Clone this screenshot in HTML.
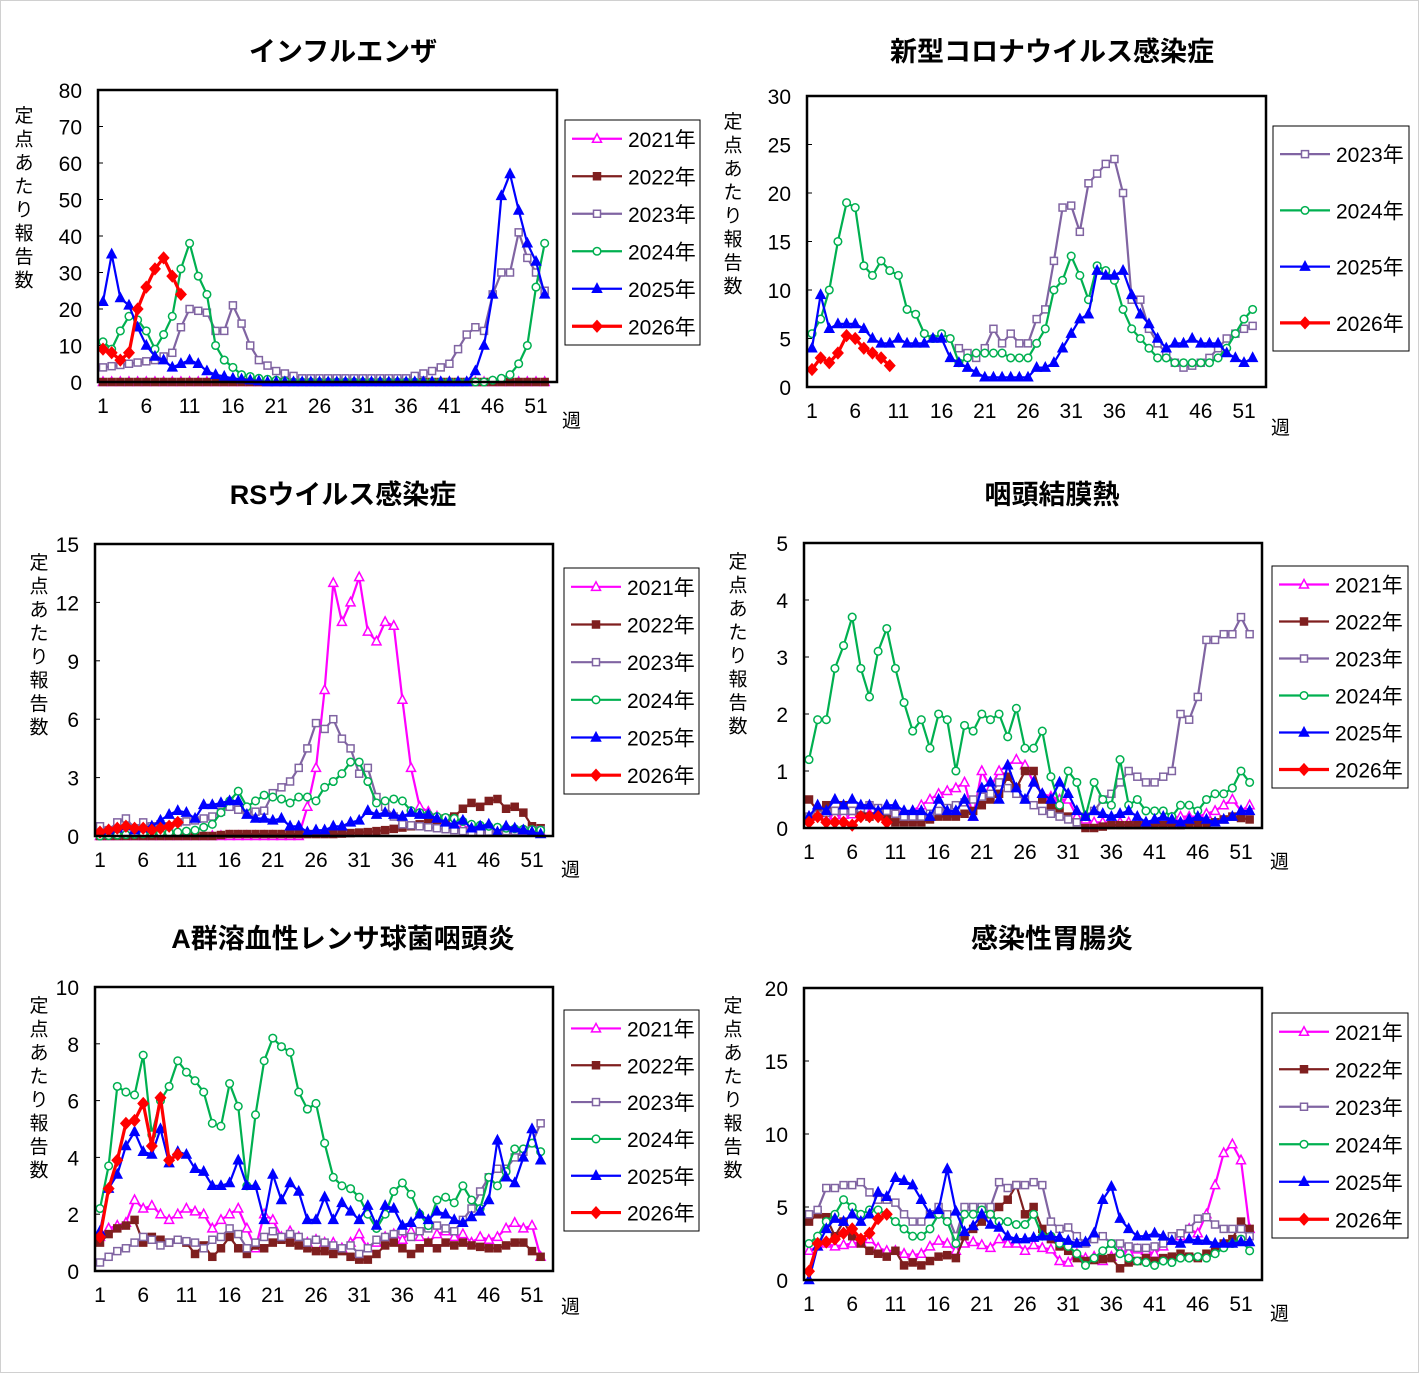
<!DOCTYPE html>
<html><head><meta charset="utf-8">
<style>
html,body{margin:0;padding:0;background:#fff;}
svg text{font-family:"Liberation Sans","Noto Sans CJK JP",sans-serif;}
</style></head>
<body>
<svg id="s" width="1419" height="1373" xmlns="http://www.w3.org/2000/svg">
<rect x="0.5" y="0.5" width="1418" height="1372" fill="#fff" stroke="#d0d0d0"/>
</svg>
<script>
const NS="http://www.w3.org/2000/svg";
const S=document.getElementById('s');
function el(t,a,txt){const e=document.createElementNS(NS,t);for(const k in a)e.setAttribute(k,a[k]);if(txt!=null)e.textContent=txt;S.appendChild(e);return e;}
const ST={
'2021':{c:'#ff00ff',m:'tri',f:false},
'2022':{c:'#7f1f1f',m:'sq',f:true},
'2023':{c:'#8064a2',m:'sq',f:false},
'2024':{c:'#00b050',m:'circ',f:false},
'2025':{c:'#0000ff',m:'tri',f:true},
'2026':{c:'#ff0000',m:'dia',f:true}
};
function marker(x,y,st){
 const fill=st.f?st.c:'#fff';const a={fill:fill,stroke:st.c,'stroke-width':1.5};
 if(st.m=='tri'){a.points=`${x},${y-5} ${x-4.5},${y+3.5} ${x+4.5},${y+3.5}`;el('polygon',a);}
 else if(st.m=='sq'){a.x=x-3.5;a.y=y-3.5;a.width=7;a.height=7;el('rect',a);}
 else if(st.m=='circ'){a.cx=x;a.cy=y;a.r=3.8;el('circle',a);}
 else {a.points=`${x},${y-5.5} ${x+5},${y} ${x},${y+5.5} ${x-5},${y}`;el('polygon',a);}
}
function interp(k){const out=[];for(let i=0;i<k.length-1;i++){const [w0,v0]=k[i],[w1,v1]=k[i+1];for(let w=w0;w<w1;w++)out.push([w,v0+(v1-v0)*(w-w0)/(w1-w0)]);}out.push(k[k.length-1]);return out;}
function panel(p){
 const [x1,y1,x2,y2]=p.box;
 el('text',{x:p.tx,y:p.ty,'font-size':27,'font-weight':'bold','text-anchor':'middle'},p.title);
 for(let v=0;v<=p.ymax+1e-9;v+=p.step){const y=y2-(y2-y1)*v/p.ymax;
  el('text',{x:x1-16,y:y+8,'font-size':21,'text-anchor':'end'},String(v));
  el('line',{x1:x1,x2:x1+5,y1:y,y2:y,stroke:'#000'});}
 const X=w=>p.w1+(w-1)*(p.w51-p.w1)/50;
 for(let w=1;w<=51;w+=5){el('text',{x:X(w),y:y2+31,'font-size':21,'text-anchor':'middle'},String(w));}
 el('text',{x:p.wk[0],y:p.wk[1],'font-size':19},'週');
 const lab='定点あたり報告数';for(let i=0;i<lab.length;i++)el('text',{x:p.yl[0],y:p.yl[1]+i*23.5,'font-size':19,'text-anchor':'middle'},lab[i]);
 const Y=v=>y2-(y2-y1)*v/p.ymax;
 for(const yr in p.d){const st=ST[yr];const pts=interp(p.d[yr]);
  el('polyline',{points:pts.map(q=>X(q[0]).toFixed(1)+','+Y(q[1]).toFixed(1)).join(' '),fill:'none',stroke:st.c,'stroke-width':yr=='2026'?3.2:2.2});
  pts.forEach(q=>marker(X(q[0]),Y(q[1]),st));}
 el('rect',{x:x1,y:y1,width:x2-x1,height:y2-y1,fill:'none',stroke:'#000','stroke-width':2.5});
 const [lx1,ly1,lx2,ly2]=p.lg;el('rect',{x:lx1,y:ly1,width:lx2-lx1,height:ly2-ly1,fill:'#fff',stroke:'#000','stroke-width':1});
 const yrs=Object.keys(p.d);const n=yrs.length;const sp=(ly2-ly1)/n;
 yrs.forEach((yr,i)=>{const y=ly1+sp*(i+0.5);const st=ST[yr];
  el('line',{x1:lx1+7,x2:lx1+57,y1:y,y2:y,stroke:st.c,'stroke-width':yr=='2026'?3.2:2.2});
  marker(lx1+32,y,st);
  el('text',{x:lx1+63,y:y+8,'font-size':21},yr+'年');});
}
panel({title:'インフルエンザ',tx:343,ty:61,box:[98,90,557,382],ymax:80,step:10,w1:103,w51:536,wk:[562,427],yl:[24,122],lg:[565,120,700,345],d:{
'2021':[[1,0],[52,0]],
'2022':[[1,0],[52,0]],
'2023':[[1,4],[4,5],[7,6],[9,8],[10,15],[11,20],[13,19],[14,14],[15,14],[16,21],[17,16],[18,10],[19,6],[21,3],[24,1],[30,1],[36,1],[39,3],[41,5],[42,9],[43,13],[44,15],[45,14],[46,24],[47,30],[48,30],[49,41],[50,34],[51,30],[52,25]],
'2024':[[1,11],[2,9],[3,14],[4,18],[5,17],[6,14],[7,9],[8,13],[9,18],[10,31],[11,38],[12,29],[13,24],[14,10],[15,6],[16,4],[17,2],[19,1],[23,0],[45,0],[47,1],[48,2],[49,5],[50,10],[51,26],[52,38]],
'2025':[[1,22],[2,35],[3,23],[4,21],[5,15],[6,10],[7,7],[8,6],[9,4],[10,5],[11,6],[12,5],[13,3],[14,2],[16,1],[20,0],[43,0],[44,3],[45,10],[46,24],[47,51],[48,57],[49,47],[50,38],[51,33],[52,24]],
'2026':[[1,9],[2,8],[3,6],[4,8],[5,20],[6,26],[7,31],[8,34],[9,29],[10,24]]}});
panel({title:'新型コロナウイルス感染症',tx:1052,ty:61,box:[807,96,1266,387],ymax:30,step:5,w1:812,w51:1244,wk:[1271,434],yl:[733,128],lg:[1273,126,1409,351],d:{
'2023':[[18,4],[20,3],[21,4],[22,6],[23,4.5],[24,5.5],[25,4.5],[26,4.5],[27,7],[28,8],[29,13],[30,18.5],[31,18.7],[32,16],[33,21],[34,22],[35,23],[36,23.5],[37,20],[38,9],[39,9],[40,6],[41,4.5],[42,3.5],[43,2.5],[44,2],[45,2.2],[46,2.5],[47,3],[48,4],[49,5],[50,5.5],[51,6],[52,6.3]],
'2024':[[1,5.5],[2,7],[3,10],[4,15],[5,19],[6,18.5],[7,12.5],[8,11.5],[9,13],[10,12],[11,11.5],[12,8],[13,7.5],[14,5.5],[15,5],[16,5.5],[17,5],[18,2.5],[19,3],[20,3.5],[21,3.5],[22,3.5],[23,3.5],[24,3],[25,3],[26,3],[27,4.5],[28,6],[29,10],[30,11],[31,13.5],[32,11.5],[33,9],[34,12.5],[35,12],[36,11],[37,8],[38,6],[39,5],[40,4],[41,3],[42,3],[43,2.5],[47,2.5],[48,3],[49,4],[50,5.5],[51,7],[52,8]],
'2025':[[1,4],[2,9.5],[3,6],[4,6.5],[5,6.5],[6,6.5],[7,6],[8,5],[9,4.5],[10,4.5],[11,5],[12,4.5],[13,4.5],[14,4.5],[15,5],[16,5],[17,3],[18,2.5],[19,2],[20,1.5],[21,1],[26,1],[27,2],[28,2],[29,2.5],[30,4],[31,5.5],[32,7],[33,7.5],[34,12],[35,11.5],[36,11.5],[37,12],[38,9.5],[39,7.5],[40,6.5],[41,5],[42,4],[43,4.5],[44,4.5],[45,5],[46,4.5],[47,4.5],[48,4.5],[49,3.5],[50,3],[51,2.5],[52,3]],
'2026':[[1,1.8],[2,3],[3,2.5],[4,3.5],[5,5.3],[6,5],[7,4],[8,3.5],[9,3],[10,2.2]]}});
panel({title:'RSウイルス感染症',tx:343,ty:504,box:[95,544,553,836],ymax:15,step:3,w1:100,w51:532,wk:[561,876],yl:[39,569],lg:[564,568,699,794],d:{
'2021':[[1,0],[24,0],[25,1.5],[26,3.5],[27,7.5],[28,13],[29,11],[30,12],[31,13.3],[32,10.5],[33,10],[34,11],[35,10.8],[36,7],[37,3.5],[38,1.5],[40,1],[42,0.5],[52,0.2]],
'2022':[[1,0],[14,0],[16,0.1],[28,0.1],[32,0.2],[34,0.3],[37,0.5],[40,0.8],[42,1],[43,1.4],[44,1.7],[45,1.5],[46,1.8],[47,1.9],[48,1.4],[49,1.5],[50,1.2],[51,0.5],[52,0.4]],
'2023':[[1,0.5],[2,0.3],[3,0.7],[4,0.9],[5,0.4],[6,0.7],[7,0.5],[8,0.6],[9,0.5],[10,0.7],[12,0.8],[14,1],[16,1.5],[18,1.2],[20,1.3],[21,2.2],[22,2.5],[23,2.8],[24,3.5],[25,4.5],[26,5.8],[27,5.5],[28,6],[29,5],[30,4.5],[31,3.2],[32,3.5],[33,2],[34,1.5],[35,1],[36,0.6],[40,0.4],[44,0.2],[52,0.3]],
'2024':[[1,0],[10,0.2],[12,0.3],[14,0.6],[15,1.2],[16,1.8],[17,2.3],[18,1.5],[19,1.8],[20,2.1],[21,2],[22,1.9],[23,1.7],[24,2],[25,2],[26,1.8],[27,2.5],[28,2.8],[29,3.2],[30,3.8],[31,3.8],[32,2.8],[33,1.7],[34,1.8],[35,1.9],[36,1.8],[37,1.3],[38,1.2],[40,1],[42,0.9],[44,0.6],[46,0.5],[48,0.4],[52,0.3]],
'2025':[[1,0.2],[2,0.3],[3,0.4],[4,0.5],[5,0.3],[6,0.4],[7,0.5],[8,0.8],[9,1.1],[10,1.3],[11,1.2],[12,0.9],[13,1.6],[14,1.6],[15,1.7],[16,1.8],[17,1.8],[18,1.1],[19,0.9],[20,0.9],[21,0.8],[22,0.9],[23,0.5],[24,0.5],[25,0.2],[26,0.3],[27,0.3],[28,0.5],[29,0.5],[30,0.7],[31,0.8],[32,1.3],[33,1.1],[34,1.2],[35,1.1],[36,1],[37,1.2],[38,1.1],[39,1.1],[40,0.9],[41,0.7],[42,0.6],[43,0.8],[44,0.4],[45,0.5],[46,0.6],[47,0.2],[48,0.5],[49,0.4],[50,0.3],[51,0.2],[52,0.1]],
'2026':[[1,0.2],[2,0.3],[3,0.4],[4,0.5],[5,0.4],[6,0.4],[7,0.3],[8,0.4],[9,0.5],[10,0.7]]}});
panel({title:'咽頭結膜熱',tx:1052,ty:504,box:[804,543,1262,828],ymax:5,step:1,w1:809,w51:1241,wk:[1270,868],yl:[738,568],lg:[1272,566,1408,788],d:{
'2021':[[1,0.2],[13,0.3],[14,0.4],[15,0.5],[16,0.6],[18,0.7],[19,0.8],[20,0.2],[21,1],[22,0.7],[23,1],[24,1.1],[25,1.2],[26,1.1],[27,0.8],[28,0.6],[30,0.5],[31,0.5],[32,0.2],[34,0.1],[40,0.1],[44,0.2],[46,0.2],[48,0.3],[49,0.4],[50,0.5],[51,0.3],[52,0.4]],
'2022':[[1,0.5],[2,0.3],[3,0.4],[4,0.3],[5,0.4],[6,0.3],[7,0.3],[8,0.2],[9,0.3],[10,0.2],[11,0.1],[14,0.1],[16,0.2],[18,0.2],[20,0.3],[21,0.4],[22,0.5],[23,0.6],[24,0.9],[25,0.7],[26,1],[27,1],[28,0.5],[29,0.4],[30,0.3],[31,0.2],[32,0.1],[33,0],[34,0],[36,0.05],[44,0.05],[48,0.1],[50,0.2],[52,0.15]],
'2023':[[1,0.2],[4,0.3],[6,0.3],[8,0.4],[10,0.3],[12,0.2],[14,0.2],[16,0.3],[18,0.4],[20,0.5],[22,0.6],[23,0.8],[24,0.7],[26,0.5],[28,0.3],[30,0.2],[32,0.1],[34,0.3],[35,0.5],[36,0.6],[37,0.8],[38,1],[39,0.9],[40,0.8],[41,0.8],[42,0.9],[43,1],[44,2],[45,1.9],[46,2.3],[47,3.3],[48,3.3],[49,3.4],[50,3.4],[51,3.7],[52,3.4]],
'2024':[[1,1.2],[2,1.9],[3,1.9],[4,2.8],[5,3.2],[6,3.7],[7,2.8],[8,2.3],[9,3.1],[10,3.5],[11,2.8],[12,2.2],[13,1.7],[14,1.9],[15,1.4],[16,2],[17,1.9],[18,1],[19,1.8],[20,1.7],[21,2],[22,1.9],[23,2],[24,1.6],[25,2.1],[26,1.4],[27,1.4],[28,1.7],[29,0.9],[30,0.4],[31,1],[32,0.8],[33,0.2],[34,0.8],[35,0.5],[36,0.4],[37,1.2],[38,0.4],[39,0.5],[40,0.3],[42,0.3],[43,0.2],[44,0.4],[45,0.4],[46,0.3],[47,0.5],[48,0.6],[49,0.6],[50,0.7],[51,1],[52,0.8]],
'2025':[[1,0.2],[2,0.4],[3,0.3],[4,0.5],[5,0.4],[6,0.5],[7,0.4],[8,0.4],[9,0.3],[10,0.4],[11,0.4],[12,0.3],[14,0.3],[15,0.2],[16,0.5],[17,0.3],[18,0.3],[19,0.5],[20,0.2],[21,0.7],[22,0.8],[23,0.5],[24,1.1],[25,0.7],[26,0.5],[27,0.8],[28,0.6],[29,0.5],[30,0.8],[31,0.6],[32,0.3],[33,0.2],[34,0.3],[36,0.2],[38,0.3],[40,0.1],[42,0.2],[44,0.1],[46,0.2],[48,0.1],[50,0.2],[51,0.3],[52,0.3]],
'2026':[[1,0.1],[2,0.2],[3,0.1],[4,0.1],[5,0.1],[6,0.05],[7,0.2],[8,0.2],[9,0.2],[10,0.1]]}});
panel({title:'A群溶血性レンサ球菌咽頭炎',tx:343,ty:948,box:[95,987,553,1271],ymax:10,step:2,w1:100,w51:532,wk:[561,1313],yl:[39,1012],lg:[564,1010,699,1231],d:{
'2021':[[1,1.2],[2,1.5],[3,1.6],[4,1.7],[5,2.5],[6,2.2],[7,2.3],[8,2],[9,1.8],[10,2],[11,2.2],[12,2.1],[13,2],[14,1.5],[15,1.8],[16,2],[17,2.2],[18,1.5],[19,0.8],[20,2],[21,1.8],[22,1.2],[23,1.4],[24,1.2],[25,1],[26,1.1],[27,1],[28,1],[29,0.8],[30,1],[31,1.3],[32,0.8],[33,1],[34,1.2],[35,1.3],[36,1.1],[37,1.4],[38,1.2],[39,1],[40,1.3],[41,1.4],[42,1.2],[43,1.3],[44,1],[45,1.2],[46,1.1],[47,1.2],[48,1.5],[49,1.7],[50,1.5],[51,1.6],[52,0.5]],
'2022':[[1,1],[2,1.3],[3,1.5],[4,1.6],[5,1.8],[6,1],[7,1.2],[8,1.1],[9,1],[10,1.1],[11,1],[12,0.6],[13,0.9],[14,0.5],[15,0.8],[16,1.2],[17,0.8],[18,0.6],[19,0.9],[20,0.8],[21,1],[22,1.1],[23,1],[24,0.9],[25,0.8],[26,0.7],[27,0.7],[28,0.6],[29,0.7],[30,0.5],[31,0.4],[32,0.4],[33,0.6],[34,0.9],[35,1],[36,0.8],[37,0.6],[38,0.8],[39,1],[40,0.8],[41,1],[42,0.9],[43,1],[44,0.9],[46,0.8],[47,0.8],[48,0.9],[49,1],[50,1],[51,0.7],[52,0.5]],
'2023':[[1,0.3],[2,0.5],[3,0.7],[4,0.8],[5,1],[6,1.2],[7,1.1],[8,0.9],[9,1],[10,1.1],[12,1],[13,0.8],[14,1.1],[15,1.2],[16,1.5],[17,1.3],[18,0.8],[19,1],[20,1.2],[21,1.4],[22,1.2],[23,1.3],[24,1.2],[25,1],[26,1.1],[27,1],[28,0.9],[29,0.8],[30,0.9],[31,0.6],[32,0.8],[33,1.1],[34,1.2],[35,1.3],[36,1.4],[37,1.2],[38,1.4],[39,1.5],[40,1.6],[41,1.5],[42,1.4],[43,1.8],[44,2.2],[45,2.8],[46,3.3],[47,3.6],[48,3.6],[49,4],[50,4.2],[51,4.5],[52,5.2]],
'2024':[[1,2.2],[2,3.7],[3,6.5],[4,6.3],[5,6.2],[6,7.6],[7,4.8],[8,6],[9,6.5],[10,7.4],[11,7],[12,6.7],[13,6.3],[14,5.2],[15,5.1],[16,6.6],[17,5.8],[18,3],[19,5.5],[20,7.4],[21,8.2],[22,7.9],[23,7.7],[24,6.3],[25,5.7],[26,5.9],[27,4.5],[28,3.3],[29,3],[30,2.9],[31,2.6],[32,2],[33,1.5],[34,2],[35,2.8],[36,3.1],[37,2.7],[38,2],[39,1.6],[40,2.5],[41,2.6],[42,2.4],[43,3],[44,2.5],[45,2.2],[46,3.3],[47,3],[48,3.5],[49,4.3],[50,4.3],[51,4.5],[52,4.2]],
'2025':[[1,1.4],[2,2.9],[3,3.4],[4,4.4],[5,4.9],[6,4.2],[7,4.1],[8,5],[9,3.8],[10,4.2],[11,4.1],[12,3.6],[13,3.5],[14,3],[15,3],[16,3.1],[17,3.9],[18,3],[19,3],[20,1.8],[21,3.4],[22,2.5],[23,3.1],[24,2.8],[25,1.8],[26,1.8],[27,2.6],[28,1.8],[29,2.4],[30,2.1],[31,1.8],[32,2.3],[33,1.6],[34,2.3],[35,2.2],[36,1.6],[37,1.7],[38,2],[39,1.8],[40,2.1],[41,2],[42,1.8],[43,1.7],[44,1.9],[45,2.1],[46,2.5],[47,4.6],[48,3.3],[49,3.1],[50,4],[51,5],[52,3.9]],
'2026':[[1,1.2],[2,2.9],[3,3.9],[4,5.2],[5,5.3],[6,5.9],[7,4.4],[8,6.1],[9,3.9],[10,4.1]]}});
panel({title:'感染性胃腸炎',tx:1052,ty:948,box:[804,988,1262,1280],ymax:20,step:5,w1:809,w51:1241,wk:[1270,1320],yl:[733,1012],lg:[1272,1013,1408,1238],d:{
'2021':[[1,2],[2,2.3],[3,2.5],[4,2.3],[5,2.4],[6,2.5],[7,2.6],[8,2.8],[9,2.2],[10,2],[11,2],[12,1.8],[13,1.7],[14,1.8],[15,2.3],[16,2.7],[17,2.5],[18,2],[19,2.5],[20,2.6],[21,2.4],[22,2.2],[23,2.8],[24,2.5],[25,2.5],[26,2],[27,2.4],[28,2.2],[29,2.1],[30,1.3],[31,1.2],[32,1.8],[33,1.5],[34,1.6],[35,1.3],[36,1.6],[37,2],[38,1.9],[39,2.1],[40,2],[41,1.8],[42,2.3],[43,2.7],[44,3],[45,3.5],[46,3.2],[47,4.5],[48,6.5],[49,8.7],[50,9.3],[51,8.2],[52,3.5]],
'2022':[[1,4],[2,4.5],[3,4.3],[4,3],[5,4],[6,3],[7,2.5],[8,2],[9,1.8],[10,1.6],[11,2],[12,1],[13,1.2],[14,1],[15,1.3],[16,1.6],[17,1.7],[18,1.5],[19,3],[20,3.5],[21,4],[22,4.5],[23,5],[24,5.5],[25,6.5],[26,4.5],[27,5],[28,3.5],[29,2.8],[30,2.3],[31,2],[32,1.5],[33,1.3],[36,1.5],[37,0.8],[38,1.2],[39,1.3],[40,1.5],[41,1.3],[42,1.5],[43,1.6],[44,1.8],[45,1.6],[46,1.5],[47,1.8],[48,2],[49,2.5],[50,2.8],[51,4],[52,3.5]],
'2023':[[1,4.5],[2,4.8],[3,6.3],[4,6.3],[5,6.5],[6,6.5],[7,6.7],[8,6],[9,5.5],[10,5.5],[11,5.3],[12,4.5],[13,4],[14,4],[15,4.5],[16,5],[17,4.5],[18,3],[19,5],[22,5],[23,6.7],[24,6.3],[25,6.5],[26,6.5],[27,6.7],[28,6.5],[29,4],[30,3.5],[31,3.6],[32,3],[33,2.5],[34,2.8],[35,3],[36,2.5],[37,2.5],[38,2.3],[39,2.2],[40,2.2],[41,2.3],[42,2.5],[43,3],[44,3.2],[45,3.5],[46,4.2],[47,4.3],[48,3.8],[49,3.5],[51,3.5],[52,3]],
'2024':[[1,2.5],[2,3],[3,4],[4,4.5],[5,5.5],[6,5],[7,4.5],[8,4.8],[9,4.8],[10,4.5],[11,4],[12,3.5],[13,3],[14,3],[15,3.5],[16,4.5],[17,4],[18,2.5],[19,4.5],[20,4.5],[21,4.8],[22,4.5],[23,4],[24,4],[25,3.8],[26,3.8],[27,4.5],[28,3],[29,3],[30,2.5],[31,2.3],[32,1.8],[33,1],[34,1.5],[35,2],[36,2.5],[37,1.8],[38,1.5],[39,1.3],[40,1.2],[41,1],[42,1.3],[43,1.2],[44,1.5],[45,1.5],[46,1.6],[47,1.5],[48,1.8],[49,2.2],[50,2.5],[51,2.8],[52,2]],
'2025':[[1,0],[2,2.3],[3,3.5],[4,4.2],[5,4],[6,4.5],[7,4],[8,4.5],[9,6],[10,5.7],[11,7],[12,6.8],[13,6.5],[14,5.5],[15,4.5],[16,4.8],[17,7.6],[18,4.7],[19,3.3],[20,3.7],[21,4.5],[22,3.8],[23,3.6],[24,3],[25,2.8],[26,2.8],[27,2.9],[28,3],[29,3],[30,2.9],[31,2.7],[32,2.5],[33,2.6],[34,3.2],[35,5.5],[36,6.4],[37,4.2],[38,3.5],[39,3],[40,3],[41,3.2],[42,3],[43,2.7],[44,2.5],[45,2.8],[46,2.7],[47,2.7],[48,2.5],[50,2.5],[51,2.6],[52,2.6]],
'2026':[[1,0.6],[2,2.5],[3,2.6],[4,2.8],[5,3.2],[6,3.5],[7,2.8],[8,3.2],[9,4.2],[10,4.5]]}});
</script>
</body></html>
